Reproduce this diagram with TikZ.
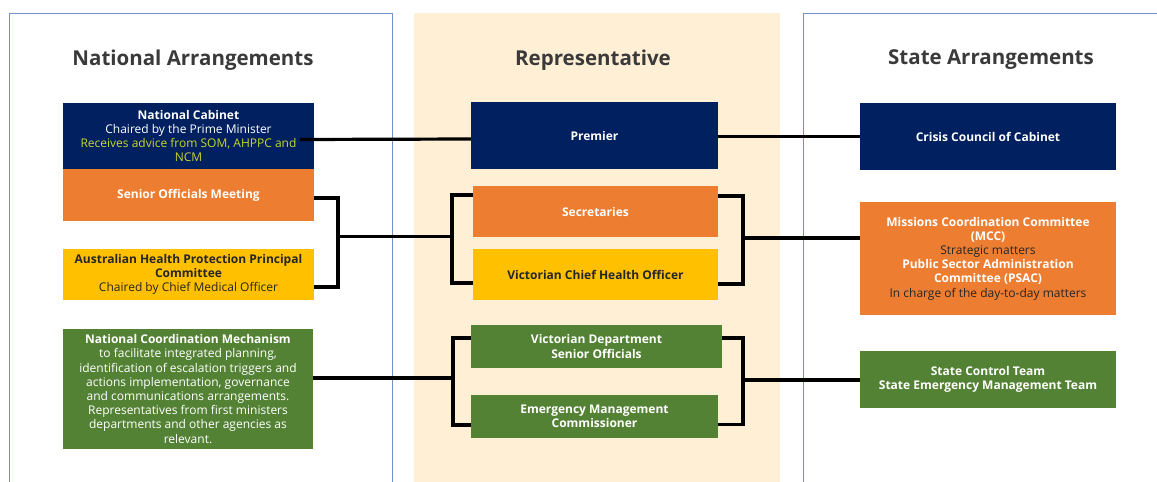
\documentclass[tikz,border=0pt]{standalone}
\usepackage{fontspec}
\setmainfont{Open Sans}
\definecolor{navy}{HTML}{002060}
\definecolor{orng}{HTML}{ED7D31}
\definecolor{yell}{HTML}{FFC000}
\definecolor{grn}{HTML}{548235}
\definecolor{cream}{HTML}{FFF0D5}
\definecolor{panelblue}{HTML}{7090C8}
\definecolor{lime}{HTML}{C8D62A}
\definecolor{titlegray}{HTML}{3A3A3A}
\definecolor{darktext}{HTML}{262626}
\begin{document}
\begin{tikzpicture}[x=1pt,y=-1pt,
  panel/.style={draw=panelblue,line width=1pt},
  title/.style={font=\fontsize{20.5}{23}\selectfont\bfseries,text=titlegray,anchor=center},
  box/.style={draw=none,inner sep=0pt,align=center,text=white,
    font=\fontsize{12}{14.2}\selectfont},
  conn/.style={draw=black,line width=3.2pt}]
\useasboundingbox (0,0) rectangle (1157,482);
\fill[white] (0,0) rectangle (1157,482);
% panels
\draw[panel] (9,13) -- (392,13) -- (392,490);
\draw[panel] (9,13) -- (9,490);
\fill[cream] (414,13) rectangle (780,482);
\draw[panel] (803,490) -- (803,13) -- (1165,13);
% titles
\node[title] (tN) at (193,60) {National Arrangements};
\node[title] (tR) at (593,60) {Representative};
\node[title] (tS) at (991,60) {State Arrangements};
% left column
\node[box,fill=navy,minimum width=251pt,minimum height=66pt] (nc) at (188.5,136)
 {\textbf{National Cabinet}\\Chaired by the Prime Minister\\\textcolor{lime}{Receives advice from SOM, AHPPC and}\\\textcolor{lime}{NCM}};
\node[box,fill=orng,minimum width=251pt,minimum height=52pt] (som) at (188.5,195)
 {\textbf{Senior Officials Meeting}};
\node[box,fill=yell,text=darktext,minimum width=251pt,minimum height=51pt] (ahppc) at (188.5,274.5)
 {\textbf{Australian Health Protection Principal}\\\textbf{Committee}\\Chaired by Chief Medical Officer};
\node[box,fill=grn,minimum width=250pt,minimum height=120pt] (ncm) at (188,389)
 {\textbf{National Coordination Mechanism}\\to facilitate integrated planning,\\identification of escalation triggers and\\actions implementation, governance\\and communications arrangements.\\Representatives from first ministers\\departments and other agencies as\\relevant.};
% middle column
\node[box,fill=navy,minimum width=247pt,minimum height=67pt] (prem) at (594.5,135.5)
 {\textbf{Premier}};
\node[box,fill=orng,minimum width=245pt,minimum height=51pt] (sec) at (595.5,211.5)
 {\textbf{Secretaries}};
\node[box,fill=yell,text=darktext,minimum width=245pt,minimum height=51pt] (vcho) at (595.5,274.5)
 {\textbf{Victorian Chief Health Officer}};
\node[box,fill=grn,minimum width=251pt,minimum height=43pt] (vdso) at (596.5,346.5)
 {\textbf{Victorian Department}\\\textbf{Senior Officials}};
\node[box,fill=grn,minimum width=247pt,minimum height=43pt] (emc) at (594.5,416.5)
 {\textbf{Emergency Management}\\\textbf{Commissioner}};
% right column
\node[box,fill=navy,minimum width=256pt,minimum height=67pt] (ccc) at (988,136.5)
 {\textbf{Crisis Council of Cabinet}};
\node[box,fill=orng,minimum width=256pt,minimum height=113pt] (mcc) at (988,258.5)
 {\textbf{Missions Coordination Committee}\\\textbf{(MCC)}\\\textcolor{darktext}{Strategic matters}\\\textbf{Public Sector Administration}\\\textbf{Committee (PSAC)}\\\textcolor{darktext}{In charge of the day-to-day matters}};
\node[box,fill=grn,minimum width=256pt,minimum height=57pt] (sct) at (988,379.5)
 {\textbf{State Control Team}\\\textbf{State Emergency Management Team}};
% junction coordinates
\coordinate (jL1) at (338,236.5);
\coordinate (jM1) at (452,236.5);
\coordinate (jR1) at (743,238);
\coordinate (jM2) at (453,378);
\coordinate (jR2) at (743,380);
% connectors
\draw[conn] ([xshift=-14pt,yshift=-3.5pt]nc.east) -- ([yshift=-3.5pt]prem.west);
\draw[conn] ([yshift=-1pt]prem.east) -- ([yshift=-1pt]prem.east -| ccc.west);
\draw[conn] ([yshift=-3pt]som.east) -| (jL1) |- ([yshift=-12.5pt]ahppc.east);
\draw[conn] (jL1) -- (jM1);
\draw[conn] ([yshift=16.5pt]sec.west) -| (jM1) |- ([yshift=-8.5pt]vcho.west);
\draw[conn] ([yshift=15.5pt]sec.east) -| (jR1) |- ([yshift=-9.5pt]vcho.east);
\draw[conn] (jR1) -- (jR1 -| mcc.west);
\draw[conn] ([yshift=11pt]ncm.east) -- (jM2);
\draw[conn] ([yshift=8.5pt]vdso.west) -| (jM2) |- ([yshift=-8.5pt]emc.west);
\draw[conn] ([yshift=8.5pt]vdso.east) -| (jR2) |- ([yshift=-8pt]emc.east);
\draw[conn] (jR2) -- (jR2 -| sct.west);
\end{tikzpicture}
\end{document}
